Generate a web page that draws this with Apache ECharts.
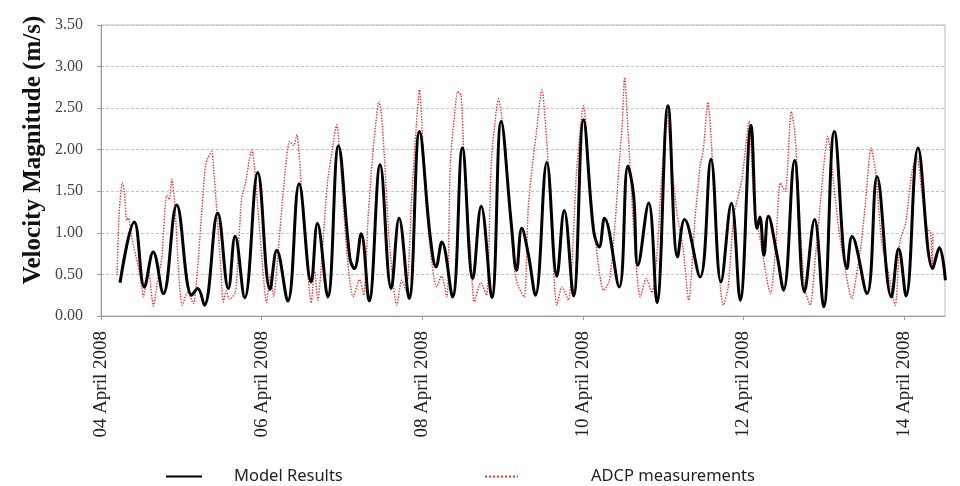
<!DOCTYPE html>
<html>
<head>
<meta charset="utf-8">
<script src="https://cdn.jsdelivr.net/npm/echarts@6/dist/echarts.min.js"></script>
<style>
html,body{margin:0;padding:0;background:#fff;}
#chart{width:960px;height:486px;}
</style>
</head>
<body>
<div id="chart"></div>
<script>
// time in days after 04 April 2008 00:00
const modelT = [0.237,0.415,0.54,0.65,0.776,0.943,1.13,1.205,1.287,1.453,1.586,1.67,1.79,1.952,2.105,2.189,2.326,2.467,2.616,2.695,2.824,2.957,3.10,3.156,3.24,3.339,3.476,3.613,3.712,3.837,3.966,4.10,4.173,4.244,4.377,4.50,4.63,4.734,4.867,4.983,5.11,5.175,5.24,5.32,5.41,5.552,5.677,5.768,5.884,6.009,6.133,6.204,6.27,6.453,6.561,6.63,6.686,6.82,6.923,7.06,7.18,7.267,7.46,7.596,7.72,7.85,7.96,8.094,8.17,8.205,8.255,8.31,8.415,8.50,8.637,8.76,8.886,8.999,9.132,9.29,9.352,9.539,9.664,9.842,9.933,10.025,10.174,10.357,10.44,10.515];
const modelV = [0.40,1.13,0.35,0.77,0.27,1.335,0.25,0.33,0.13,1.24,0.33,0.96,0.22,1.725,0.32,0.79,0.18,1.59,0.41,1.115,0.23,2.045,0.69,0.57,0.99,0.18,1.82,0.33,1.175,0.21,2.22,0.95,0.59,0.89,0.23,2.02,0.45,1.32,0.22,2.34,1.10,0.55,1.055,0.75,0.25,1.845,0.48,1.27,0.24,2.36,1.035,0.83,1.175,0.35,1.805,1.475,0.61,1.36,0.16,2.53,0.71,1.16,0.47,1.885,0.41,1.355,0.19,2.29,1.055,1.19,0.73,1.20,0.75,0.31,1.87,0.29,1.16,0.11,2.22,0.57,0.955,0.27,1.675,0.23,0.81,0.24,2.02,0.57,0.82,0.43];

const adcpT = [0.20,0.224,0.265,0.29,0.32,0.34,0.382,0.461,0.507,0.527,0.589,0.652,0.70,0.756,0.818,0.85,0.881,0.922,0.963,1.013,1.08,1.15,1.20,1.25,1.30,1.33,1.379,1.40,1.45,1.49,1.524,1.56,1.60,1.67,1.70,1.75,1.80,1.85,1.877,1.91,1.97,2.02,2.06,2.11,2.15,2.20,2.27,2.35,2.40,2.438,2.47,2.52,2.57,2.617,2.66,2.70,2.75,2.82,2.88,2.936,2.97,3.02,3.07,3.14,3.22,3.27,3.33,3.38,3.42,3.46,3.49,3.53,3.59,3.684,3.745,3.80,3.87,3.92,3.966,4.01,4.06,4.18,4.24,4.307,4.35,4.40,4.443,4.485,4.52,4.60,4.65,4.73,4.80,4.86,4.92,4.95,4.99,5.05,5.15,5.20,5.27,5.32,5.37,5.42,5.49,5.55,5.61,5.677,5.74,5.82,5.92,6.009,6.07,6.13,6.21,6.258,6.33,6.40,6.45,6.49,6.52,6.57,6.65,6.715,6.79,6.86,6.92,6.97,7.00,7.047,7.09,7.17,7.25,7.317,7.40,7.46,7.50,7.557,7.60,7.66,7.75,7.81,7.88,7.98,8.07,8.13,8.23,8.336,8.40,8.46,8.52,8.596,8.64,8.70,8.76,8.83,8.90,8.96,9.00,9.05,9.10,9.18,9.26,9.35,9.40,9.47,9.52,9.59,9.65,9.72,9.80,9.89,9.95,10.02,10.10,10.16,10.22,10.28,10.33,10.35,10.36];
const adcpV = [0.49,1.20,1.60,1.50,1.15,1.18,0.95,0.60,0.35,0.23,0.57,0.12,0.40,0.70,1.45,1.40,1.645,1.31,0.59,0.13,0.29,0.15,0.55,1.20,1.80,1.90,1.98,1.80,1.15,0.60,0.17,0.30,0.20,0.28,0.60,1.40,1.60,1.90,2.00,1.80,1.10,0.50,0.16,0.50,0.23,0.70,1.50,2.10,2.05,2.18,1.90,1.20,0.55,0.16,0.55,0.19,0.70,1.60,2.00,2.30,2.00,1.30,0.67,0.23,0.44,0.25,1.25,1.90,2.30,2.58,2.45,1.90,0.90,0.13,0.43,0.30,1.45,2.20,2.72,2.05,1.20,0.35,0.48,0.23,1.85,2.40,2.70,2.65,1.90,0.80,0.17,0.40,0.25,1.85,2.45,2.61,2.40,1.80,0.55,0.35,0.23,1.30,1.80,2.20,2.72,2.10,1.05,0.13,0.35,0.19,1.70,2.53,1.85,1.15,0.50,0.31,0.42,1.10,1.80,2.30,2.87,2.10,0.80,0.23,0.45,0.28,0.70,1.50,1.90,2.46,2.00,1.25,0.80,0.19,1.20,1.80,2.00,2.57,2.10,1.00,0.13,0.35,1.20,1.64,2.34,1.40,0.80,0.27,0.80,1.60,1.50,2.46,2.20,1.20,0.35,0.13,0.75,1.375,1.80,2.16,1.80,1.10,0.60,0.21,0.45,0.90,1.375,2.02,1.70,0.90,0.55,0.13,0.90,1.12,1.74,1.92,1.50,1.07,1.00,0.60,1.00];

const tickDays = [0,2,4,6,8,10];
const tickLabels = ['04 April 2008','06 April 2008','08 April 2008','10 April 2008','12 April 2008','14 April 2008'];

const modelData = modelT.map((t,i)=>[t,modelV[i]]);
const adcpData = adcpT.map((t,i)=>[t,adcpV[i]]);

const chart = echarts.init(document.getElementById('chart'), null, {renderer:'canvas'});
chart.setOption({
  animation:false,
  backgroundColor:'#ffffff',
  grid:{left:101,right:15,top:25,bottom:170,show:true,borderColor:'#bdbdbd',borderWidth:1,backgroundColor:'transparent'},
  xAxis:{
    type:'value',min:0,max:10.51,interval:2,
    axisLine:{show:true,lineStyle:{color:'#9a9a9a',width:1}},
    axisTick:{show:true,length:4,inside:false,customValues:tickDays,lineStyle:{color:'#9a9a9a'}},
    splitLine:{show:false},
    axisLabel:{
      customValues:tickDays,
      rotate:90,margin:15,
      fontFamily:'"Liberation Serif", serif',fontSize:19,color:'#222',
      formatter:function(v){const k=tickDays.indexOf(Math.round(v));return k>=0?tickLabels[k]:'';}
    }
  },
  yAxis:{
    type:'value',min:0,max:3.5,interval:0.5,
    axisLine:{show:true,lineStyle:{color:'#9a9a9a',width:1}},
    axisTick:{show:true,length:4,lineStyle:{color:'#9a9a9a'}},
    splitLine:{show:true,lineStyle:{color:'#c4c4c4',type:[3,2],width:1}},
    axisLabel:{margin:18,fontFamily:'"Liberation Serif", serif',fontSize:16,color:'#444',
      formatter:function(v){return v.toFixed(2);}}
  },
  legend:[
    {left:160,top:463,itemWidth:36,itemHeight:14,data:['Model Results'],
     itemStyle:{opacity:0},
     textStyle:{fontFamily:'"Noto Sans", sans-serif',fontSize:16.5,color:'#222',padding:[0,0,0,27]}},
    {left:479,top:463,itemWidth:33,itemHeight:14,data:['ADCP measurements'],
     itemStyle:{opacity:0},
     textStyle:{fontFamily:'"Noto Sans", sans-serif',fontSize:16.5,color:'#222',padding:[0,0,0,68]}}
  ],
  graphic:[{
    type:'text',x:34,y:150,rotation:Math.PI/2,
    style:{text:'Velocity Magnitude (m/s)',font:'bold 25px "Liberation Serif", serif',fill:'#111',
      textAlign:'center',textVerticalAlign:'middle',verticalAlign:'middle'}
  }],
  series:[
    {name:'ADCP measurements',type:'line',data:adcpData,showSymbol:false,symbol:'none',smooth:0.25,z:2,
     lineStyle:{color:'#ec3030',width:1.4,type:'dotted'},itemStyle:{color:'#ec3030'}},
    {name:'Model Results',type:'line',data:modelData,showSymbol:false,symbol:'none',smooth:0.4,z:3,
     lineStyle:{color:'#000000',width:3},itemStyle:{color:'#000000'}}
  ]
});
</script>
</body>
</html>
